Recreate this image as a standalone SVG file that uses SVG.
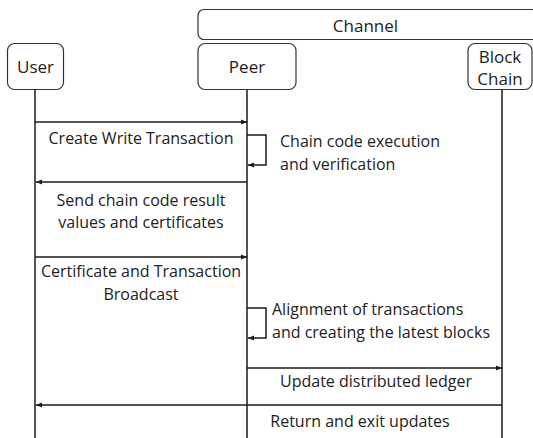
<svg xmlns="http://www.w3.org/2000/svg" width="533" height="438" viewBox="0 0 533 438">
<defs>
<marker id="ah" viewBox="0 0 10 10" refX="10" refY="5" markerWidth="6" markerHeight="6" markerUnits="userSpaceOnUse" orient="auto">
<path d="M0,1 L10,5 L0,9 Z" fill="#1a1a1a"/>
</marker>
<style>
.box{fill:#fff;stroke:#333;stroke-width:1.2}
.ll{stroke:#1a1a1a;stroke-width:1.5;fill:none}
.msg{stroke:#1a1a1a;stroke-width:1.5;fill:none;marker-end:url(#ah)}
text{font-family:"Open Sans","Noto Sans",sans-serif;font-size:16px;fill:#222}
.c{text-anchor:middle}
.h{font-size:17px}
</style>
</defs>
<rect width="533" height="438" fill="#fff"/>
<g id="channel"><rect class="box" x="198" y="9.5" width="340" height="30" rx="6"/><text class="c h" x="365.5" y="32">Channel</text></g>
<g id="user"><rect class="box" x="7.5" y="43.5" width="56" height="46" rx="7"/><text class="c h" x="35.5" y="73">User</text></g>
<g id="peer"><rect class="box" x="198" y="43.5" width="98" height="46" rx="7"/><text class="c h" x="247" y="73">Peer</text></g>
<g id="blockchain"><rect class="box" x="468" y="43.5" width="64" height="46" rx="7"/><text class="c h" x="500" y="63">Block</text><text class="c h" x="500" y="85">Chain</text></g>
<g id="connectors">
<line class="ll" x1="35" y1="90" x2="35" y2="438"/>
<line class="ll" x1="247" y1="90" x2="247" y2="438"/>
<line class="ll" x1="502" y1="90" x2="502" y2="438"/>
<line class="msg" x1="35" y1="122" x2="247" y2="122"/>
<path class="msg" d="M247,135 H266 V165 H248"/>
<line class="msg" x1="247" y1="182" x2="36" y2="182"/>
<line class="msg" x1="35" y1="257" x2="247" y2="257"/>
<path class="msg" d="M247,308 H266 V338 H248"/>
<line class="msg" x1="247" y1="368" x2="502" y2="368"/>
<line class="msg" x1="502" y1="405" x2="36" y2="405"/>
</g>
<g id="labels">
<text class="c" x="141" y="144">Create Write Transaction</text>
<text x="280" y="147">Chain code execution</text>
<text x="280" y="170">and verification</text>
<text class="c" x="141" y="206">Send chain code result</text>
<text class="c" x="141" y="228">values and certificates</text>
<text class="c" x="141" y="277">Certificate and Transaction</text>
<text class="c" x="141" y="300">Broadcast</text>
<text x="272" y="315">Alignment of transactions</text>
<text x="272" y="338">and creating the latest blocks</text>
<text class="c" x="376" y="387">Update distributed ledger</text>
<text class="c" x="360" y="427">Return and exit updates</text>
</g>
</svg>
